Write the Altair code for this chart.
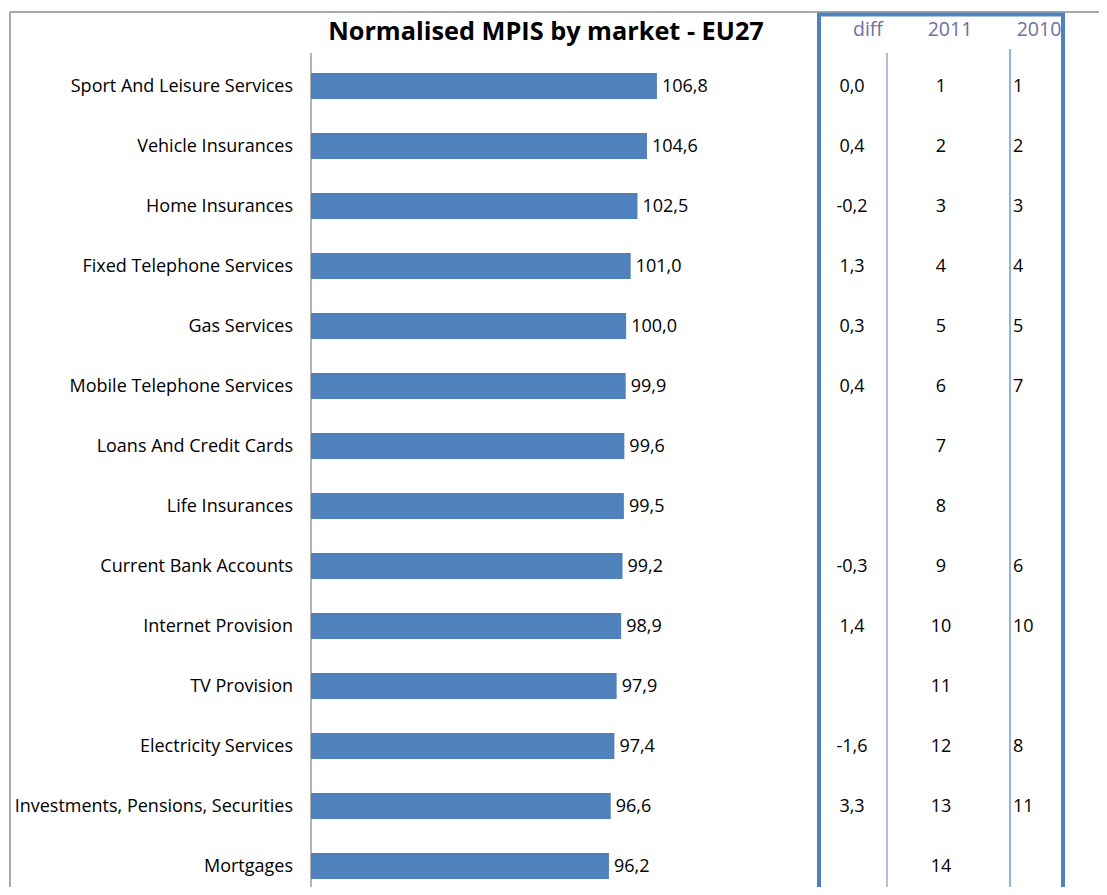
import altair as alt
import pandas as pd

title = "Normalised MPIS by market - EU27"
categories = [
    "Sport And Leisure Services", "Vehicle Insurances", "Home Insurances ",
    "Fixed Telephone Services", "Gas Services", "Mobile Telephone Services",
    "Loans And Credit Cards", "Life Insurances", "Current Bank Accounts",
    "Internet Provision", "TV Provision", "Electricity Services",
    "Investments, Pensions, Securities", "Mortgages",
]
values = [106.8, 104.6, 102.5, 101.0, 100.0, 99.9, 99.6, 99.5, 99.2, 98.9, 97.9, 97.4, 96.6, 96.2]
diff = ["0,0", "0,4", "-0,2", "1,3", "0,3", "0,4", "", "", "-0,3", "1,4", "", "-1,6", "3,3", ""]
rank2011 = ["1", "2", "3", "4", "5", "6", "7", "8", "9", "10", "11", "12", "13", "14"]
rank2010 = ["1", "2", "3", "4", "5", "7", "", "", "6", "10", "", "8", "11", ""]
headers = ["diff", "2011", "2010"]

df = pd.DataFrame({
    "row": list(range(len(categories))),
    "category": categories,
    "value": values,
    "label": [f"{v:.1f}".replace(".", ",") for v in values],
    "diff": diff,
    "r2011": rank2011,
    "r2010": rank2010,
})
one = pd.DataFrame({"k": [0]})

W, H = 784, 831
XMIN = 30.4
FONT = "Open Sans"
FS = 18
BLUE = "#4F81BD"

x_scale = alt.Scale(domain=[XMIN, XMIN + W / 4.528], nice=False, zero=False, padding=0)
y_scale = alt.Scale(domain=[-0.5, 13.35], reverse=True, nice=False, zero=False, padding=0)

base = alt.Chart(df)
yenc = alt.Y("row:Q", scale=y_scale, axis=None)

bars = base.mark_bar(orient="horizontal", size=26, color=BLUE).encode(
    x=alt.X("value:Q", scale=x_scale, axis=None),
    x2=alt.X2(datum=XMIN),
    y=yenc,
)
txt = dict(font=FONT, fontSize=FS, color="black", dy=1)
vals = base.mark_text(align="left", dx=5, **txt).encode(
    x=alt.X("value:Q", scale=x_scale), y=yenc, text="label:N"
)
cats = base.mark_text(align="right", **txt).encode(
    x=alt.value(-18), y=yenc, text="category:N"
)
dtext = base.mark_text(align="center", **txt).encode(
    x=alt.value(541), y=yenc, text="diff:N"
)
r11 = base.mark_text(align="center", **txt).encode(
    x=alt.value(630), y=yenc, text="r2011:N"
)
r10 = base.mark_text(align="left", **txt).encode(
    x=alt.value(702), y=yenc, text="r2010:N"
)

oc = alt.Chart(one)
title_mark = oc.mark_text(text=title, font=FONT, fontSize=25.3, fontWeight="bold",
                          align="center", color="black").encode(
    x=alt.value(235), y=alt.value(-24))
HC = "#6F6FA0"
HFS = 19.5
hdr = [
    oc.mark_text(text=headers[0], font=FONT, fontSize=HFS, color=HC, align="center").encode(
        x=alt.value(557), y=alt.value(-26)),
    oc.mark_text(text=headers[1], font=FONT, fontSize=HFS, color=HC, align="center").encode(
        x=alt.value(639), y=alt.value(-26)),
    oc.mark_text(text=headers[2], font=FONT, fontSize=HFS, color=HC, align="center").encode(
        x=alt.value(728), y=alt.value(-26)),
]

def rule(x, x2, y, y2, color, width):
    return oc.mark_rule(color=color, strokeWidth=width).encode(
        x=alt.value(x), x2=alt.value(x2), y=alt.value(y), y2=alt.value(y2))

lines = [
    rule(-301, -301, -44, 845, "#8C8C8C", 1.5),   # left border
    rule(-301, 790, -44, -44, "#8C8C8C", 1.5),    # top border
    rule(0, 0, -3, 845, "#9A9A9A", 1.5),          # axis line
    rule(576, 576, -3, 845, "#A5A5CF", 1.5),      # diff separator
    rule(699, 699, -7, 845, BLUE, 1.2),           # 2010 separator
    rule(508, 508, -43, 845, BLUE, 4),            # box left
    rule(752, 752, -43, 845, BLUE, 4),            # box right
    rule(506, 754, -41.5, -41.5, BLUE, 4),        # box top
]

chart = alt.layer(
    *lines, bars, vals, cats, dtext, r11, r10, title_mark, *hdr
).properties(
    width=W, height=H,
    autosize=alt.AutoSizeParams(type="none"),
    padding={"left": 303, "top": 48, "right": 4, "bottom": 0},
).configure_view(stroke=None)

chart.save("out.html", embed_options={"renderer": "svg", "actions": False})
